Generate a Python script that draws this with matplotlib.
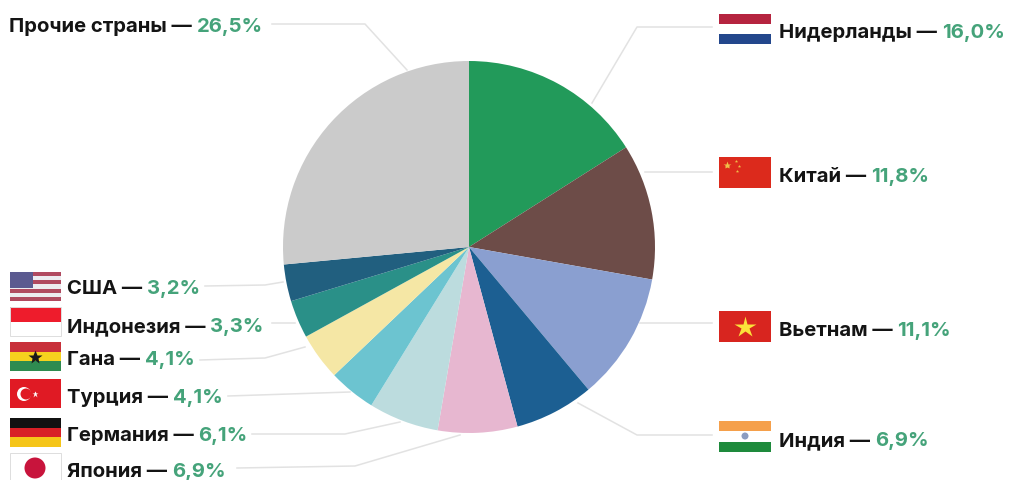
import matplotlib

matplotlib.use("Agg")
import matplotlib.pyplot as plt
from matplotlib.patches import Circle, Rectangle

H = 480

countries = ["Нидерланды", "Китай", "Вьетнам", "Индия", "Япония", "Германия",
             "Турция", "Гана", "Индонезия", "США", "Прочие страны"]
shares = [16.0, 11.8, 11.1, 6.9, 6.9, 6.1, 4.1, 4.1, 3.3, 3.2, 26.5]
share_labels = ["16,0%", "11,8%", "11,1%", "6,9%", "6,9%", "6,1%", "4,1%", "4,1%", "3,3%", "3,2%", "26,5%"]
colors = ["#229a5a", "#6d4c48", "#8a9fd0", "#1c5f92", "#e7b7d0", "#bcdcde",
          "#6cc4d0", "#f5e7a5", "#2a9088", "#215f7f", "#cbcbcb"]

# text anchor in image pixels (left edge, baseline)
label_pos = [(779, 38), (779, 182), (779, 336), (779, 446), (67, 477), (67, 441),
             (67, 403), (67, 365), (67, 332), (67, 294), (9, 32)]

leaders = [
    [(592, 103), (637, 27), (712, 27)],
    [(645, 172), (712, 172)],
    [(640, 323), (712, 323)],
    [(578, 403), (637, 435), (712, 435)],
    [(237, 468), (355, 466), (460, 435)],
    [(252, 434), (345, 434), (400, 422)],
    [(228, 396), (350, 392)],
    [(200, 360), (265, 358), (305, 347)],
    [(272, 323), (295, 323)],
    [(205, 286), (265, 285), (283, 282)],
    [(407, 70), (365, 24), (272, 24)],
]

fig = plt.figure(figsize=(10.1, 4.8), dpi=100)
ax = fig.add_axes([0, 0, 1, 1])


def px(x, y):
    return x, H - y


def flag_stripes(x, y, w, h, stripes):
    step = h / len(stripes)
    for i, c in enumerate(stripes):
        ax.add_patch(Rectangle(px(x, y + (i + 1) * step), w, step, fc=c, ec="none", zorder=3))


def star(x, y, size, color):
    ax.plot(*px(x, y), marker="*", ms=size, color=color, mec="none", zorder=4)


def draw_flags():
    w = 52
    lx, rx = 10, 719
    flag_stripes(rx, 14, w, 30, ["#b5243f", "#ffffff", "#23478c"])
    flag_stripes(rx, 157, w, 31, ["#dc2a1c"])
    star(rx + 8, 165, 6, "#f0c048")
    for dx, dy in [(17, 161), (20, 166), (18, 171)]:
        star(rx + dx, dy, 2.5, "#f0c048")
    flag_stripes(rx, 311, w, 31, ["#d8251f"])
    star(rx + 26, 327, 16, "#fbe23a")
    flag_stripes(rx, 421, w, 31, ["#f5a04b", "#ffffff", "#1e8a3c"])
    ax.add_patch(Circle(px(rx + 26, 436), 3.5, fc="#8c9cc0", ec="none", zorder=4))

    flag_stripes(lx, 272, w - 1, 29, ["#b04a60", "#ececf0"] * 3 + ["#b04a60"])
    ax.add_patch(Rectangle(px(lx, 288), 23, 16, fc="#5b5a90", ec="none", zorder=4))
    flag_stripes(lx, 307, w - 1, 29, ["#ee1c2c", "#ffffff"])
    ax.add_patch(Rectangle(px(lx, 336), w - 1, 29, fc="none", ec="#dddddd", lw=0.7, zorder=4))
    flag_stripes(lx, 342, w - 1, 29, ["#c8303a", "#f6d21e", "#2e8b50"])
    star(lx + 25, 357, 10, "#1a1a1a")
    flag_stripes(lx, 379, w - 1, 29, ["#e01a24"])
    ax.add_patch(Circle(px(lx + 14, 394), 7, fc="#ffffff", ec="none", zorder=4))
    ax.add_patch(Circle(px(lx + 16, 394), 5.5, fc="#e01a24", ec="none", zorder=5))
    star(lx + 25, 394, 5, "#ffffff")
    flag_stripes(lx, 418, w - 1, 29, ["#111111", "#d81f26", "#f5c518"])
    ax.add_patch(Rectangle(px(lx, 483), w - 1, 30, fc="#ffffff", ec="#dddddd", lw=0.7, zorder=3))
    ax.add_patch(Circle(px(lx + 25, 468), 10.5, fc="#c8143c", ec="none", zorder=4))


cx, cy = px(469, 247)
ax.pie(shares, colors=colors, startangle=90, counterclock=False, center=(cx, cy),
       radius=186, wedgeprops={"linewidth": 0})
ax.set_xlim(0, 1010)
ax.set_ylim(0, H)
ax.set_aspect("equal")
ax.axis("off")

for path in leaders:
    xs = [p[0] for p in path]
    ys = [H - p[1] for p in path]
    ax.plot(xs, ys, color="#e2e2e2", lw=1.1, zorder=1)

draw_flags()

for name, pct, (x, y) in zip(countries, share_labels, label_pos):
    t = ax.text(x, H - y, f"{name} — ", family="Inter", fontweight="bold", fontsize=14.6,
                color="#141414", va="baseline", ha="left", zorder=5)
    ax.annotate(pct, xy=(1, H - y), xycoords=(t, "data"), family="Inter", fontweight="bold",
                fontsize=14.6, color="#45a37a", va="baseline", ha="left", zorder=5)

fig.savefig("out.png", dpi=100)
